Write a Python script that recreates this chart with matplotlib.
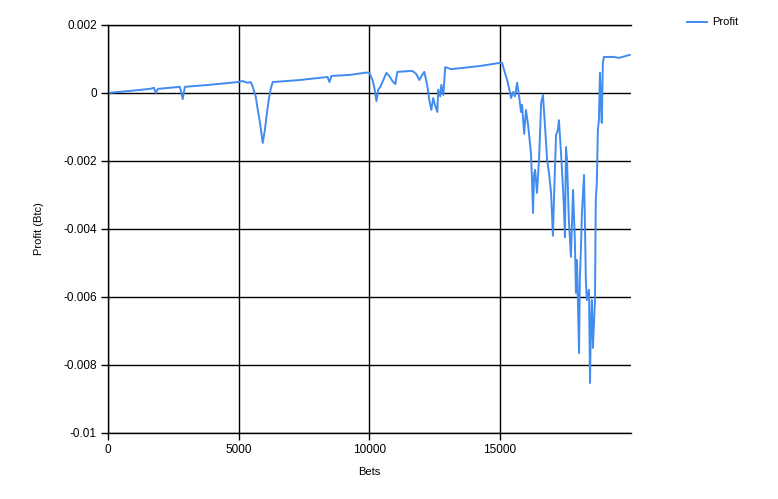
import matplotlib
matplotlib.use("Agg")
import matplotlib.pyplot as plt
from matplotlib.ticker import FixedLocator

# bets / profit
bets = [0, 840, 1600, 1760, 1830, 1910, 2750, 2860, 2940, 3900, 4960, 5150, 5340, 5460,
        5530, 5650, 5730, 5800, 5880, 5920, 6000, 6070, 6150, 6220, 6300, 7330, 8400,
        8470, 8550, 9240, 9890, 10000, 10120, 10190, 10270, 10340, 10420, 10530, 10650,
        10760, 10880, 10990, 11070, 11640, 11790, 11910, 12020, 12100, 12210, 12290,
        12370, 12440, 12520, 12600, 12630, 12710, 12750, 12830, 12900, 13130, 13820,
        14200, 14960, 15080, 15150, 15270, 15340, 15420, 15500, 15570, 15650, 15720,
        15800, 15840, 15920, 15990, 16070, 16180, 16220, 16260, 16300, 16340, 16410,
        16490, 16570, 16640, 16720, 16800, 16870, 16950, 17020, 17060, 17140, 17210,
        17250, 17330, 17410, 17440, 17480, 17520, 17560, 17630, 17710, 17790, 17860,
        17900, 17940, 18020, 18050, 18090, 18130, 18210, 18250, 18280, 18320, 18400,
        18440, 18470, 18510, 18550, 18630, 18660, 18700, 18740, 18780, 18820, 18850,
        18890, 18930, 18970, 19350, 19540, 19960]
profit = [0.0, 0.00006, 0.00012, 0.00015, 0.0, 0.00012, 0.00018, -0.00018, 0.00018,
          0.00024, 0.00032, 0.00035, 0.0003, 0.00032, 0.0002, -0.0001, -0.0005, -0.0008,
          -0.00125, -0.00147, -0.0011, -0.00065, -0.0002, 0.0001, 0.00032, 0.00038,
          0.00047, 0.00032, 0.0005, 0.00053, 0.0006, 0.00059, 0.00038, 0.00015,
          -0.00024, 0.0001, 0.00018, 0.00038, 0.00059, 0.0005, 0.00035, 0.00026,
          0.00062, 0.00065, 0.00056, 0.00038, 0.00053, 0.00062, 0.00024, -0.0002,
          -0.0005, -0.00015, -0.00038, -0.00056, 0.0001, -0.0001, 0.00024, -0.00006,
          0.00076, 0.0007, 0.00076, 0.00079, 0.00088, 0.00088, 0.00068, 0.00038,
          0.00015, -0.00015, 0.00003, -0.0001, 0.0003, -0.00006, -0.00056, -0.00035,
          -0.0012, -0.0005, -0.00094, -0.00176, -0.00256, -0.00353, -0.0024, -0.00226,
          -0.00294, -0.00197, -0.0003, -0.00006, -0.001, -0.00197, -0.00235, -0.00294,
          -0.0042, -0.00315, -0.00124, -0.00109, -0.0008, -0.00176, -0.00285, -0.00335,
          -0.00424, -0.00159, -0.00197, -0.00373, -0.00482, -0.00285, -0.00432,
          -0.00588, -0.00491, -0.00765, -0.0055, -0.00462, -0.00353, -0.00241,
          -0.00403, -0.0055, -0.00609, -0.00579, -0.00853, -0.00688, -0.00609,
          -0.0075, -0.00609, -0.00315, -0.00265, -0.00109, -0.0008, 0.00059, -0.0002,
          -0.00088, 0.00088, 0.00106, 0.00106, 0.00103, 0.00112]

x_ticks = [0, 5000, 10000, 15000]
y_ticks = [0.002, 0, -0.002, -0.004, -0.006, -0.008, -0.01]
y_labels = ["0.002", "0", "-0.002", "-0.004", "-0.006", "-0.008", "-0.01"]

plt.rcParams['font.family'] = ['Liberation Sans', 'DejaVu Sans']

fig = plt.figure(figsize=(7.78, 4.99), dpi=100)
ax = fig.add_axes([0.1388, 0.1323, 0.672, 0.8177])

line, = ax.plot(bets, profit, color='#418CF0', linewidth=1.4, label='Profit')

ax.set_xlim(0, 20000)
ax.set_ylim(-0.01, 0.002)
ax.xaxis.set_major_locator(FixedLocator(x_ticks))
ax.set_yticks(y_ticks)
ax.set_yticklabels(y_labels)
ax.grid(True, color='black', linewidth=1)
ax.set_axisbelow(True)
ax.tick_params(direction='out', length=5, width=1, color='black', labelsize=8.5, pad=3)

ax.spines['right'].set_visible(False)
for side in ['left', 'bottom', 'top']:
    ax.spines[side].set_linewidth(1)
    ax.spines[side].set_color('black')

ax.set_xlabel('Bets', fontsize=8, labelpad=8)
ax.set_ylabel('Profit (Btc)', fontsize=8, labelpad=14)

fig.legend(handles=[line], loc='upper left', bbox_to_anchor=(0.870, 0.985),
           frameon=False, fontsize=8, handlelength=1.8, handletextpad=0.5)

fig.savefig('out.png', dpi=100)
